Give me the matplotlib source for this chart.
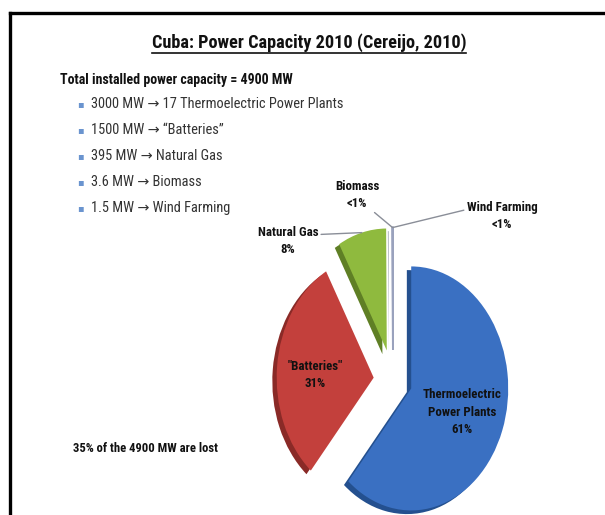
import matplotlib
matplotlib.use('Agg')
import numpy as np
import matplotlib.pyplot as plt
from matplotlib.lines import Line2D
from matplotlib import font_manager

# data
sources = ['Thermoelectric\nPower Plants', '"Batteries"', 'Natural Gas', 'Biomass', 'Wind Farming']
capacity_mw = [3000, 1500, 395, 3.6, 1.5]
pct_labels = ['61%', '31%', '8%', '<1%', '<1%']
bullet_lines = ['3000 MW \u2192 17 Thermoelectric Power Plants',
                '1500 MW \u2192 \u201cBatteries\u201d',
                '395 MW \u2192 Natural Gas',
                '3.6 MW \u2192 Biomass',
                '1.5 MW \u2192 Wind Farming']
title = 'Cuba: Power Capacity 2010 (Cereijo, 2010)'
header = 'Total installed power capacity = 4900 MW'
note = '35% of the 4900 MW are lost'

colors = ['#3a70c2', '#c3403c', '#8fba3e', '#b8bfd6', '#b8bfd6']
shade = ['#24508f', '#8a2a27', '#5f7f25', '#7a8093', '#7a8093']
explode = [0.2, 0.2, 0.25, 0.25, 0.25]

# pick a narrow face if one exists (original is Calibri)
installed = {f.name for f in font_manager.fontManager.ttflist}
FONT = ['DejaVu Sans']
for cand in ['Liberation Sans Narrow', 'Roboto Condensed', 'Open Sans Condensed', 'Lato']:
    if cand in installed:
        FONT = [cand, 'DejaVu Sans']
        break

W, H = 605, 515


def fp(x, y):
    # pixel (from top-left) -> figure fraction
    return x / W, 1 - y / H


fig = plt.figure(figsize=(W / 100, H / 100), dpi=100)
fig.patch.set_facecolor('white')
renderer = fig.canvas.get_renderer()


def fit(txt, width_px):
    # scale the font so the text spans about the width measured on the original
    for _ in range(2):
        w = txt.get_window_extent(renderer).width
        txt.set_fontsize(txt.get_fontsize() * width_px / w)
    return txt


# frame (top + left)
fig.add_artist(Line2D([10 / W, 1], [1 - 13 / H, 1 - 13 / H], color='black', lw=2.4,
                      transform=fig.transFigure))
fig.add_artist(Line2D([10 / W, 10 / W], [1 - 13 / H, 0], color='black', lw=2.4,
                      transform=fig.transFigure))

# title, underlined
t = fig.text(*fp(309, 43), title, ha='center', va='center', fontsize=15,
             fontweight='bold', family=FONT, color='#111111')
fit(t, 315)
bb = t.get_window_extent(renderer)
fig.add_artist(Line2D([bb.x0 / W, bb.x1 / W], [(bb.y0 - 1) / H, (bb.y0 - 1) / H],
                      color='#111111', lw=1.2, transform=fig.transFigure))

fit(fig.text(*fp(60, 80), header, ha='left', va='center', fontsize=10,
             fontweight='bold', family=FONT, color='#111111'), 233)

bsize = None
for i, line in enumerate(bullet_lines):
    y = 104 + i * 26
    fig.text(*fp(80, y), '\u25aa', ha='center', va='center', fontsize=7,
             color='#6a94cf', family=['DejaVu Sans'])
    bt = fig.text(*fp(91, y), line, ha='left', va='center', fontsize=10,
                  family=FONT, color='#333333')
    if bsize is None:
        bsize = fit(bt, 251).get_fontsize()
    else:
        bt.set_fontsize(bsize)

fit(fig.text(*fp(73, 448), note, ha='left', va='center', fontsize=9,
             fontweight='bold', family=FONT, color='#111111'), 145)

# pie axes: 1 unit = 97 px horizontally, 122 px vertically, centre at (393, 380)
rx, ry = 97, 122
ax = fig.add_axes([(393 - 2 * rx) / W, (H - 380 - 1.1 * ry) / H, 4 * rx / W, 3.1 * ry / H])
ax.pie(capacity_mw, explode=explode, colors=shade, startangle=90, counterclock=False,
       center=(-0.045, -0.03), wedgeprops=dict(linewidth=0))
wedges, _ = ax.pie(capacity_mw, explode=explode, colors=colors, startangle=90,
                   counterclock=False, wedgeprops=dict(linewidth=0))
for w in wedges[3:]:
    w.set_edgecolor('#9aa2bd')
    w.set_linewidth(1.3)
ax.set_aspect('auto')
ax.set_xlim(-2, 2)
ax.set_ylim(-1.1, 2.0)
ax.axis('off')


def to_data(px, py):
    return (px - 393) / rx, (380 - py) / ry


def wedge_point(w, frac=1.0):
    a = np.deg2rad((w.theta1 + w.theta2) / 2)
    cx, cy = w.center
    return cx + frac * w.r * np.cos(a), cy + frac * w.r * np.sin(a)


# label size from the width of "Thermoelectric" (about 79 px)
probe = fig.text(0, 0, 'Thermoelectric', fontsize=9, fontweight='bold', family=FONT)
fit(probe, 79)
lsize = probe.get_fontsize()
probe.remove()

lab_kw = dict(ha='center', va='center', fontsize=lsize, fontweight='bold',
              family=FONT, color='#111111')
line_kw = dict(arrowstyle='-', color='#8a8e98', lw=1.0, shrinkA=0, shrinkB=0)

# inside labels
ax.text(*to_data(462, 412), sources[0] + '\n' + pct_labels[0], linespacing=1.45, **lab_kw)
ax.text(*to_data(315, 375), sources[1] + '\n' + pct_labels[1], linespacing=1.45, **lab_kw)

# outside labels with leader lines
ax.annotate(sources[2] + '\n' + pct_labels[2], xy=wedge_point(wedges[2]),
            xytext=to_data(288, 241), textcoords='data', linespacing=1.35,
            arrowprops=dict(relpos=(1, 0.72), **line_kw), **lab_kw)
ax.annotate(sources[3] + '\n' + pct_labels[3], xy=wedge_point(wedges[3]),
            xytext=to_data(357, 195), textcoords='data', linespacing=1.35,
            arrowprops=dict(relpos=(0.78, 0.05), **line_kw), **lab_kw)
ax.annotate(sources[4] + '\n' + pct_labels[4], xy=wedge_point(wedges[4]),
            xytext=to_data(502, 216), textcoords='data', linespacing=1.35,
            arrowprops=dict(relpos=(0.0, 0.72), **line_kw), **lab_kw)

fig.savefig('out.png', dpi=100)
